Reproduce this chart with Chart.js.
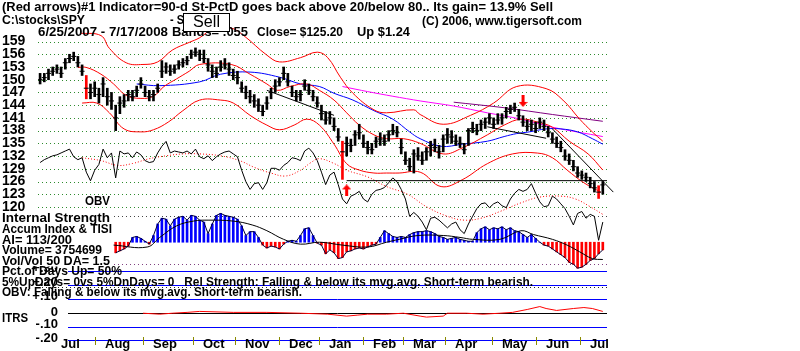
<!DOCTYPE html>
<html>
<head>
<meta charset="utf-8">
<script src="https://cdn.jsdelivr.net/npm/chart.js@4.4.1/dist/chart.umd.min.js"></script>
<style>
html,body{margin:0;padding:0;background:#fff;overflow:hidden;}
#c{display:block;}
</style>
</head>
<body>
<canvas id="c" width="800" height="351"></canvas>
<script>
// ================= DATA (6/25/2007 - 7/17/2008) =================
// one bar for every second trading day
const priceHigh = [
151.5,151.5,152.5,153,153.5,153,155,156,156.5,155.5,
153.5,151,149,149.5,148,150.5,148,147,144,146,
146.5,147.5,147.5,148.5,150.5,148.5,147.5,147.5,149,154.5,
154,153.5,153.5,154.5,155,155.5,157,157.5,157,157,
155,153.5,153,154.5,155,154,152.5,152,149.5,148.5,
147.5,146.5,145.5,144,146,148,150,150.5,153,151.5,
148.5,147.5,147.5,150,149,147.5,146,144,142.5,142.5,
141,138.5,135.5,136.5,136,138,139.5,137,135.5,135,
136.5,137.5,137,138,139.5,139,136,133,131.5,133.5,
134,133,134,135.5,136,134.5,137,138.5,138,137,
136.5,135,138.5,140,139.5,140.5,141,142,141,142,
142,143.5,144,144.5,143,141.5,140.5,140.5,140,141,
140.5,139,137.5,136.5,135.5,133.5,132.5,131,129.5,128.5,
128,127,126,125,126];
const priceLow = [
149,149.5,150,151,151.5,150.5,152.5,154,154.5,153,
151,145.5,145.5,146,144.5,146,144,143,138,142,
143.5,145,145,146,148,146,145,145,147,150.5,
151.5,151,151.5,152.5,153,153.5,155,155.5,154.5,154,
152,150.5,150.5,152,152.5,151,150,149,147,145.5,
144.5,143.5,142.5,141.5,143,145.5,147,148.5,150,148.5,
146,145,145,147.5,146.5,145,143.5,140.5,139.5,139.5,
138,135.5,126.5,132,133,134.5,136,134,132.5,132.5,
134,134.5,134.5,135.5,137,136.5,132.5,130,128.5,128,
131,130,131,132,133,131.5,133,135,135,134.5,
134,132.5,134.5,137.5,137,138,138.5,139.5,138.5,139.5,
139.5,141,142,142.5,140.5,139,138,138,137.5,138.5,
138,136.5,135,134,133,131,130,128.5,127,126.5,
126,124.5,123.5,122,123];
const priceClose = [
150,150.5,151.5,152,152.5,151.5,154,155,155.5,154,
152,148,147,148,146.5,149,146,145,141,144.5,
145,146.5,146,147.5,149,147,146,146.5,148,152,
153,152,152.5,153.5,154,154.5,156,156.5,156,155,
153.5,152,151.5,153,153.5,152.5,151,150.5,148,147,
146,145,144,142.5,144.5,147,148.5,149.5,151.5,149.5,
147,146,146.5,148.5,147.5,146,144.5,142,140.5,141,
139,136.5,133,135,134.5,137,137.5,135,134,133.5,
135.5,136,135.5,137,138,137.5,134,131,129.5,132.5,
132,131,133,134.5,134,133,136,137,136.5,135.5,
135,133.5,138,138.5,138,139.5,140,141,139.5,140.5,
141,142.5,143,143.5,141.5,140,139,139.5,138.5,140,
139,137.5,136,135,134,132,131,129.5,128,127.5,
127,125.5,124.5,123.5,125.2];
const redBarDays = [22, 144, 266];

// On-Balance Volume (arbitrary units, same bar days)
const obv = [
880,910,930,950,960,980,1000,1020,940,910,
930,780,690,800,860,1020,930,980,720,1000,
970,980,930,990,960,900,880,890,980,1050,
1100,980,1000,990,980,1000,970,1020,940,920,
950,900,940,970,990,1000,970,940,800,680,
600,660,670,600,670,820,820,800,850,880,
930,920,900,1000,1030,980,900,780,650,750,
780,650,500,450,530,550,580,500,470,550,
590,600,620,670,720,680,600,500,320,360,
320,260,180,300,310,280,240,200,240,260,
180,140,240,320,400,450,460,410,450,470,
430,410,500,560,600,580,600,660,560,470,
420,430,530,500,450,400,320,230,350,370,
300,340,320,70,260];
const obvMaDay = [20,29,37,44,52,60,68,76,86,95,102,110,117,124,129,133,140,146,156,165,175,184,194,202,210,219,229,238,248,255,262,268];
const obvMa    = [930,900,850,870,920,950,970,970,950,900,830,770,740,800,880,920,870,800,730,630,550,420,320,280,300,370,460,520,530,500,420,340];

// Accumulation Index (starts at trading day 36, every second day)
const aiStartDay = 36;
const accumIndex = [
-0.11,-0.09,-0.07,-0.04,0.05,0.06,0.04,0.01,-0.02,0.07,
0.19,0.25,0.24,0.17,0.24,0.26,0.27,0.23,0.28,0.27,
0.23,0.21,0.09,0.19,0.28,0.30,0.28,0.27,0.26,0.24,
0.17,0.07,0.11,0.11,0.05,-0.03,-0.06,-0.04,-0.05,-0.07,
-0.02,0.01,0.02,0.01,0.07,0.14,0.15,0.07,-0.01,-0.03,
-0.12,-0.08,-0.11,-0.17,-0.16,-0.10,-0.09,-0.07,-0.06,-0.07,
-0.05,-0.03,-0.02,0.05,0.12,0.09,0.06,0.05,0.06,0.05,
0.08,0.10,0.11,0.11,0.12,0.11,0.09,0.06,0.05,0.03,
0.04,0.05,0.03,0.02,0.01,0.01,0.10,0.14,0.16,0.13,
0.15,0.14,0.16,0.13,0.15,0.12,0.11,0.08,0.05,0.08,
0.04,0.00,-0.03,-0.04,-0.07,-0.10,-0.13,-0.16,-0.21,-0.23,
-0.27,-0.26,-0.23,-0.19,-0.17,-0.12,-0.08];
const aiMaDay = [35,51,57,65,73,80,92,101,108,116,124,133,144,156,165,171,180,192,200,206,219,229,235,244,251,257,263,268];
const aiMa    = [-0.03,-0.05,0.05,0.17,0.22,0.23,0.22,0.18,0.12,0.03,-0.02,0.00,-0.03,-0.05,0.00,0.03,0.07,0.07,0.05,0.03,0.03,0.12,0.08,0.03,-0.03,-0.10,-0.17,-0.18];

// Bands and moving averages (price)
const upperDay = [19,29,33,41,49,56,63,71,76,83,91,97,108,114,124,132,137,143,149,159,165,178,181,192,205,216,227,241,249,257,263,268];
const upperBand = [161.0,160.4,157.4,154.0,153.6,154.2,157.0,158.8,159.9,162.2,162.2,160.4,155.8,154.2,155.2,156.5,155.2,150.6,146.8,142.9,142.2,142.9,141.8,139.5,141.6,144.5,148.4,147.9,145.2,140.7,137.7,135.5];
const midDay = [18,22,29,35,41,48,54,59,65,71,76,91,100,108,113,119,127,133,140,146,152,159,165,173,181,192,201,213,221,229,237,244,252,261,268];
const midBand = [152.9,152.9,151.3,149.0,146.3,145.6,146.1,148.4,150.2,152.0,153.6,153.6,151.3,149.0,147.5,148.4,149.0,147.5,145.2,142.2,139.3,137.0,136.1,136.1,135.0,132.5,133.9,137.0,139.3,140.7,140.0,138.8,135.5,132.5,128.7];
const lowerDay = [20,27,33,40,48,54,61,68,76,86,92,100,108,114,121,127,133,140,146,152,159,165,171,181,191,201,213,225,237,244,251,259,267];
const lowerBand = [144.5,144.5,142.2,138.4,137.7,138.2,140.0,142.7,145.2,145.2,144.5,141.6,139.3,138.2,139.3,140.7,139.3,134.8,130.2,128.7,128.0,128.0,128.0,128.2,124.8,126.4,130.2,132.5,132.7,131.6,128.7,125.7,123.5];
const ma50Day = [46,57,76,86,100,114,124,133,140,149,159,168,176,181,191,201,213,221,227,233,241,248,256,263,268];
const ma50 = [149.0,148.6,149.5,151.3,151.8,150.6,149.0,148.4,146.8,145.2,142.7,140.7,137.7,136.1,134.3,134.8,135.5,136.6,137.3,137.7,138.4,138.4,137.7,136.1,134.8];
const ma200Day = [144,156,168,181,197,213,229,244,268];
const ma200 = [148.4,147.2,146.1,145.0,143.8,142.2,140.7,138.8,136.6];
const maLongDay = [197,221,244,268];
const maLong = [144.7,143.4,141.8,140.2];

// Trend lines
const trend1Day = [108,140], trend1 = [147.5,141.6];
const trend2Day = [213,241], trend2 = [138.9,136.2];
const trend3Day = [244,273], trend3 = [138.4,123.5];
const supportDay = [146,270], support = [126.2,126.2];

// Signals
const buyDay = [146], buyPrice = [123.9];
const sellDay = [230], sellPrice = [145.0];

// ITRS
const itrsDay = [49,57,63,70,76,92,108,124,137,146,151,156,165,173,181,184,192,194,203,211,219,225,232,238,241,246,254,259,263,268];
const itrs = [-0.003,-0.010,-0.003,0.003,0.010,0.003,0.003,-0.003,-0.010,-0.024,-0.017,-0.010,-0.010,-0.003,-0.024,-0.031,-0.024,-0.003,-0.003,-0.010,-0.003,0.003,0.024,0.045,0.031,0.017,0.031,0.038,0.031,0.010];

// Axis ticks / labels
const priceTicks = [159,156,153,150,147,144,141,138,135,132,129,126,123,120];
const itrsTicks = [0.30,0.20,0.10,0,-0.10,-0.20];
const itrsTickLabels = ['+.30','+.20','+.10','0','-.10','-.20'];
const monthTickDays = [5,26,49,73,93,114,133,154,173,193,215,236,257];
const monthLabels = ['Jul','Aug','Sep','Oct','Nov','Dec','Jan','Feb','Mar','Apr','May','Jun','Jul'];

// ================= CHART =================
const barDays = priceClose.map((_, k) => 2 * k);          // trading-day index of each bar
const aiDays = accumIndex.map((_, k) => aiStartDay + 2 * k);
const pts = (xs, ys) => xs.map((x, k) => ({x: x, y: ys[k]}));

const FONT = '"Liberation Sans", Arial, sans-serif';
function txt(ctx, s, x, yc, o) {
  o = o || {};
  const size = o.size || 13, weight = o.weight || 'bold';
  ctx.save();
  ctx.font = weight + ' ' + size + 'px ' + FONT;
  ctx.textBaseline = 'middle';
  ctx.textAlign = 'left';
  const m = ctx.measureText(s).width;
  const w = o.w || m;
  if (o.align === 'right') x = x - w;
  if (o.bg) { ctx.fillStyle = o.bg; ctx.fillRect(x - 1, yc - 5.5, w + 2, 11); }
  ctx.translate(x, yc);
  ctx.scale(w / m, 1);
  ctx.fillStyle = o.color || '#000';
  ctx.fillText(s, 0, 0);
  ctx.restore();
}

function arrowImg(dir) {
  const c = document.createElement('canvas');
  c.width = 9; c.height = 12;
  const g = c.getContext('2d');
  g.fillStyle = '#ff0000';
  g.beginPath();
  if (dir === 'up') {
    g.moveTo(4.5, 0); g.lineTo(9, 5); g.lineTo(0, 5); g.closePath(); g.fill();
    g.fillRect(3, 5, 3, 7);
  } else {
    g.moveTo(4.5, 12); g.lineTo(9, 7); g.lineTo(0, 7); g.closePath(); g.fill();
    g.fillRect(3, 0, 3, 7);
  }
  return c;
}

const deco = {
  id: 'deco',
  beforeDatasetsDraw(chart) {
    const {ctx, chartArea: ca, scales} = chart;
    ctx.save();
    ctx.lineWidth = 1;
    ctx.setLineDash([1, 3]);
    ctx.strokeStyle = '#2e8b2e';
    priceTicks.forEach(p => {
      const y = Math.round(scales.yP.getPixelForValue(p)) + 0.5;
      ctx.beginPath(); ctx.moveTo(ca.left, y); ctx.lineTo(ca.right, y); ctx.stroke();
    });
    // Accumulation panel bounds
    [[0.27, '#444'], [-0.23, '#804080'], [-0.47, '#222']].forEach(([v, col]) => {
      const y = Math.round(scales.yA.getPixelForValue(v)) + 0.5;
      ctx.strokeStyle = col;
      ctx.beginPath(); ctx.moveTo(ca.left, y); ctx.lineTo(ca.right, y); ctx.stroke();
    });
    ctx.setLineDash([]);
    // ITRS panel lines
    itrsTicks.forEach(v => {
      const y = Math.round(scales.yI.getPixelForValue(v)) + 0.5;
      ctx.strokeStyle = v === 0 ? '#000000' : '#0000ff';
      ctx.beginPath(); ctx.moveTo(68, y); ctx.lineTo(ca.right, y); ctx.stroke();
    });
    ctx.restore();
  },
  afterDraw(chart) {
    const {ctx, scales} = chart;
    const L = (s, x, y, o) => txt(ctx, s, x, y, o);
    // price axis labels
    priceTicks.forEach(p => L(String(p), 2, scales.yP.getPixelForValue(p), {size: 14}));
    L('OBV', 85, 201, {w: 25});
    // ITRS labels
    itrsTicks.forEach((v, k) => {
      const y = scales.yI.getPixelForValue(v) - (v === 0 ? 0.5 : 2.5);
      L(itrsTickLabels[k], 58, y, {align: 'right', size: 13});
    });
    L('ITRS', 2, 318, {w: 26});
    // left info block
    const block = [
      ['Internal Strength', 218, 108, true],
      ['Accum Index & TISI', 229.5, 110, true],
      ['AI= 113/200', 240, 70, true],
      ['Volume= 3754699', 250.5, 100, true],
      ['Vol/Vol 50 DA= 1.5', 261, 108, true],
      ['Pct.of Days Up= 50%', 271.5, 120, false],
      ['5%UpDays= 0vs 5%DnDays= 0   Rel Strength: Falling & below its mvg.avg. Short-term bearish.', 282, 531, false],
      ['OBV: Falling & below its mvg.avg. Short-term bearish.', 292, 300, false]
    ];
    block.forEach(([s, y, w, bg]) => L(s, 2, y, {w: w, bg: bg ? '#fff' : null}));
    // month axis
    ctx.save();
    ctx.strokeStyle = '#8a8a00';
    ctx.lineWidth = 1;
    monthTickDays.forEach((d, k) => {
      const x = Math.round(scales.x.getPixelForValue(d)) + 0.5;
      if (k > 0) { ctx.beginPath(); ctx.moveTo(x, 337); ctx.lineTo(x, 345); ctx.stroke(); }
      L(monthLabels[k], x + 9.5, 344, {size: 13});
    });
    ctx.restore();
    // header
    L('(Red arrows)#1 Indicator=90-d St-PctD goes back above 20/below 80.. Its gain= 13.9% Sell', 2, 7, {w: 551});
    L('C:\\stocks\\SPY', 2, 20, {w: 83});
    L('- S', 170, 20, {w: 14});
    L('(C) 2006, www.tigersoft.com', 422, 21, {w: 160});
    L('6/25/2007 - 7/17/2008', 38, 32, {w: 130});
    L('Bands= .055', 172, 32, {w: 76});
    L('Close= $125.20', 257, 32, {w: 86});
    L('Up $1.24', 357, 32, {w: 53});
    ctx.save();
    ctx.fillStyle = '#fff';
    ctx.fillRect(183, 13, 47, 19);
    ctx.strokeStyle = '#000';
    ctx.lineWidth = 1;
    ctx.strokeRect(183.5, 13.5, 46, 18);
    ctx.restore();
    L('Sell', 193, 23, {w: 27, size: 16, weight: 'normal'});
  }
};

const lineDs = (label, xs, ys, axis, color, extra) => Object.assign({
  type: 'line', label: label, data: pts(xs, ys), yAxisID: axis,
  borderColor: color, backgroundColor: color, borderWidth: 1,
  pointRadius: 0, tension: 0, fill: false
}, extra || {});

new Chart(document.getElementById('c'), {
  type: 'bar',
  data: {
    datasets: [
      { type: 'line', label: 'Buy', data: pts(buyDay, buyPrice), yAxisID: 'yP', showLine: false,
        pointStyle: arrowImg('up'), pointRadius: 6 },
      { type: 'line', label: 'Sell', data: pts(sellDay, sellPrice), yAxisID: 'yP', showLine: false,
        pointStyle: arrowImg('down'), pointRadius: 6 },
      { type: 'line', label: 'Close', data: pts(barDays, priceClose), yAxisID: 'yP', showLine: false,
        pointStyle: 'line', pointRadius: 2.5, borderColor: '#000', borderWidth: 1 },
      { type: 'bar', label: 'High-Low', data: barDays.map((d, k) => ({x: d, y: [priceLow[k], priceHigh[k]]})),
        yAxisID: 'yP', grouped: false, barThickness: 2,
        backgroundColor: barDays.map(d => redBarDays.includes(d) ? '#ff0000' : '#000000'), borderWidth: 0 },
      lineDs('Trend 1', trend1Day, trend1, 'yP', '#000'),
      lineDs('Trend 2', trend2Day, trend2, 'yP', '#000'),
      lineDs('Trend 3', trend3Day, trend3, 'yP', '#000', {clip: false}),
      lineDs('Support', supportDay, support, 'yP', '#000'),
      lineDs('Upper band', upperDay, upperBand, 'yP', '#ff0000', {tension: 0.4}),
      lineDs('Middle', midDay, midBand, 'yP', '#ff0000', {tension: 0.4}),
      lineDs('Lower band', lowerDay, lowerBand, 'yP', '#ff0000', {tension: 0.4}),
      lineDs('50-day MA', ma50Day, ma50, 'yP', '#0000ff', {tension: 0.4}),
      lineDs('200-day MA', ma200Day, ma200, 'yP', '#ff00ff', {tension: 0.3}),
      lineDs('Long MA', maLongDay, maLong, 'yP', '#800080', {tension: 0.3}),
      lineDs('OBV', barDays, obv, 'yO', '#000000'),
      lineDs('OBV MA', obvMaDay, obvMa, 'yO', '#ff0000', {borderDash: [1, 2], tension: 0.4}),
      lineDs('AI outline', aiDays, accumIndex, 'yA', '#000033'),
      lineDs('AI MA', aiMaDay, aiMa, 'yA', '#000000', {tension: 0.4}),
      { type: 'bar', label: 'Accum Index', data: pts(aiDays, accumIndex), yAxisID: 'yA',
        grouped: false, barThickness: 2, borderWidth: 0,
        backgroundColor: accumIndex.map(v => v >= 0 ? '#0000ff' : '#ff0000') },
      lineDs('ITRS', itrsDay, itrs, 'yI', '#ff0000')
    ]
  },
  options: {
    responsive: false,
    animation: false,
    devicePixelRatio: 1,
    events: [],
    layout: {padding: {left: 38, right: 193, top: 0, bottom: 0}},
    plugins: {legend: {display: false}, tooltip: {enabled: false}, title: {display: false}},
    scales: {
      x: {type: 'linear', min: -1, max: 270, display: false, offset: false},
      y: {display: false},
      yP: {type: 'linear', min: 87.68, max: 167.15, display: false},
      yO: {type: 'linear', min: -1010, max: 2500, display: false},
      yA: {type: 'linear', min: -1.06, max: 2.45, display: false},
      yI: {type: 'linear', min: -0.2257, max: 2.2118, display: false}
    }
  },
  plugins: [deco]
});
</script>
</body>
</html>
